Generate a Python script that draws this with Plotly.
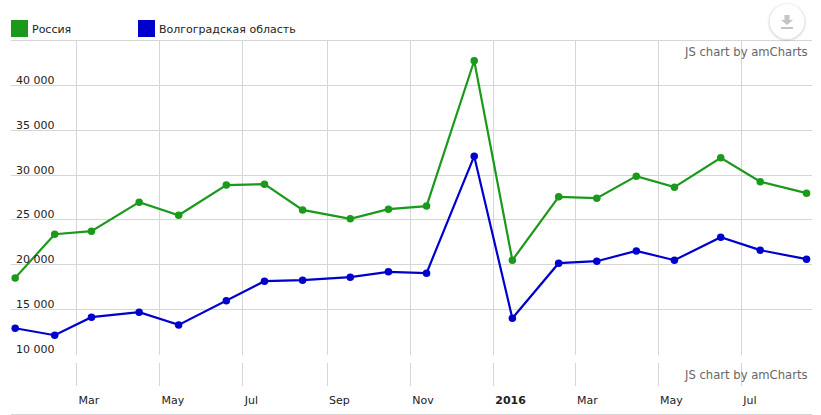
import plotly.graph_objects as go

dates = ["2015-01-15","2015-02-13","2015-03-12","2015-04-16","2015-05-15","2015-06-19",
         "2015-07-17","2015-08-14","2015-09-18","2015-10-16","2015-11-13","2015-12-18",
         "2016-01-15","2016-02-18","2016-03-17","2016-04-15","2016-05-13","2016-06-16",
         "2016-07-15","2016-08-18"]
russia = [18540,23410,23750,26980,25530,28880,28990,26120,25120,26200,26540,42740,
          20510,27570,27430,29880,28650,31920,29250,27985]
volgograd = [12930,12150,14160,14720,13300,15980,18170,18280,18620,19210,19070,32110,
             14050,20180,20400,21550,20510,23080,21630,20630]
y_ticks = [10000,15000,20000,25000,30000,35000,40000]
y_labels = ["10 000","15 000","20 000","25 000","30 000","35 000","40 000"]
x_ticks = ["2015-03-01","2015-05-01","2015-07-01","2015-09-01","2015-11-01","2016-01-01",
           "2016-03-01","2016-05-01","2016-07-01"]
x_labels = ["Mar","May","Jul","Sep","Nov","<b>2016</b>","Mar","May","Jul"]
x_range = ["2015-01-11 22:00","2016-08-22"]
FONT = "DejaVu Sans, Verdana, sans-serif"
W, H = 821, 415
GRID = "#d6d6d6"
GREEN, BLUE = "#1a991a", "#0000cc"

def px(v): return v / W
def py(v): return 1 - v / H

fig = go.Figure()
for name, vals, col in (("Россия", russia, GREEN), ("Волгоградская область", volgograd, BLUE)):
    fig.add_trace(go.Scatter(x=dates, y=vals, name=name, mode="lines+markers",
                             line=dict(color=col, width=2.2), marker=dict(color=col, size=7.5),
                             showlegend=False, cliponaxis=False))

common_x = dict(type="date", range=x_range, tickvals=x_ticks, showgrid=True, gridcolor=GRID,
                gridwidth=1, zeroline=False, showline=False, domain=[px(11), px(812)])
fig.update_layout(
    width=W, height=H, autosize=False, margin=dict(l=0, r=0, t=0, b=0),
    paper_bgcolor="white", plot_bgcolor="white",
    font=dict(family=FONT, size=11, color="#222222"), showlegend=False,
    xaxis=dict(**common_x, showticklabels=False, anchor="y"),
    yaxis=dict(range=[10000, 45000], domain=[py(354.5), py(40.5)], tickvals=y_ticks,
               showticklabels=False, showgrid=True, gridcolor=GRID, gridwidth=1,
               zeroline=False, showline=False, ticks="", anchor="x"),
    xaxis2=dict(**common_x, matches="x", anchor="y2", ticktext=x_labels, ticks="",
                ticklabelposition="outside right", ticklabelstandoff=6, ticklabelshift=2,
                tickfont=dict(size=11, color="#222222")),
    yaxis2=dict(domain=[py(386), py(363)], range=[0, 1], showgrid=False, zeroline=False,
                showticklabels=False, showline=False, anchor="x2"),
)
# empty trace so the lower tick band is drawn
fig.add_trace(go.Scatter(x=[dates[0]], y=[None], xaxis="x2", yaxis="y2", showlegend=False, hoverinfo="skip"))

shapes = [
    dict(type="line", xref="paper", yref="paper", x0=px(11), x1=px(812), y0=py(40.5), y1=py(40.5),
         line=dict(color=GRID, width=1)),
    dict(type="line", xref="paper", yref="paper", x0=px(11), x1=px(812), y0=py(414.5), y1=py(414.5),
         line=dict(color=GRID, width=1)),
    dict(type="rect", xref="paper", yref="paper", x0=px(11), x1=px(28), y0=py(37), y1=py(20),
         fillcolor=GREEN, line=dict(width=0)),
    dict(type="rect", xref="paper", yref="paper", x0=px(138), x1=px(155), y0=py(37), y1=py(20),
         fillcolor=BLUE, line=dict(width=0)),
]
# download button: soft shadow, white disc, grey arrow
cx, cy, r = 787, 21.5, 17.5
for grow, op in ((2.5, 0.025), (1.5, 0.04), (0.7, 0.06)):
    shapes.append(dict(type="circle", xref="paper", yref="paper", x0=px(cx-r-grow), x1=px(cx+r+grow),
                       y0=py(cy+r+grow+0.7), y1=py(cy-r-grow+0.7), fillcolor=f"rgba(0,0,0,{op})", line=dict(width=0)))
shapes.append(dict(type="circle", xref="paper", yref="paper", x0=px(cx-r), x1=px(cx+r),
                   y0=py(cy+r), y1=py(cy-r), fillcolor="white", line=dict(width=0)))
shapes.append(dict(type="path", xref="paper", yref="paper", fillcolor="#c4c4c4", line=dict(width=0),
                   path=f"M {px(784.5)} {py(15)} L {px(789.5)} {py(15)} L {px(789.5)} {py(20)} L {px(793)} {py(20)} "
                        f"L {px(787)} {py(25)} L {px(781)} {py(20)} L {px(784.5)} {py(20)} Z"))
shapes.append(dict(type="rect", xref="paper", yref="paper", x0=px(781), x1=px(793), y0=py(29), y1=py(27),
                   fillcolor="#c4c4c4", line=dict(width=0)))

anns = [
    dict(text="Россия", x=px(30), y=py(29), xanchor="left", yanchor="middle", xref="paper", yref="paper"),
    dict(text="Волгоградская область", x=px(157), y=py(29), xanchor="left", yanchor="middle", xref="paper", yref="paper"),
    dict(text="JS chart by amCharts", x=px(810), y=py(52), xanchor="right", yanchor="middle", xref="paper", yref="paper",
         font=dict(size=11.6, color="#666666")),
    dict(text="JS chart by amCharts", x=px(810), y=py(375), xanchor="right", yanchor="middle", xref="paper", yref="paper",
         font=dict(size=11.6, color="#666666")),
]
for val, label in zip(y_ticks, y_labels):
    anns.append(dict(text=label, x=px(13.5), xref="paper", y=val, yref="y", xanchor="left", yanchor="bottom", yshift=-3.5))
for a in anns:
    a.update(showarrow=False)
fig.update_layout(shapes=shapes, annotations=anns)
fig.write_html("out.html", config={"displayModeBar": False},
               post_script="document.body.style.margin='0';document.documentElement.style.overflow='hidden';window.dispatchEvent(new Event('resize'));")
